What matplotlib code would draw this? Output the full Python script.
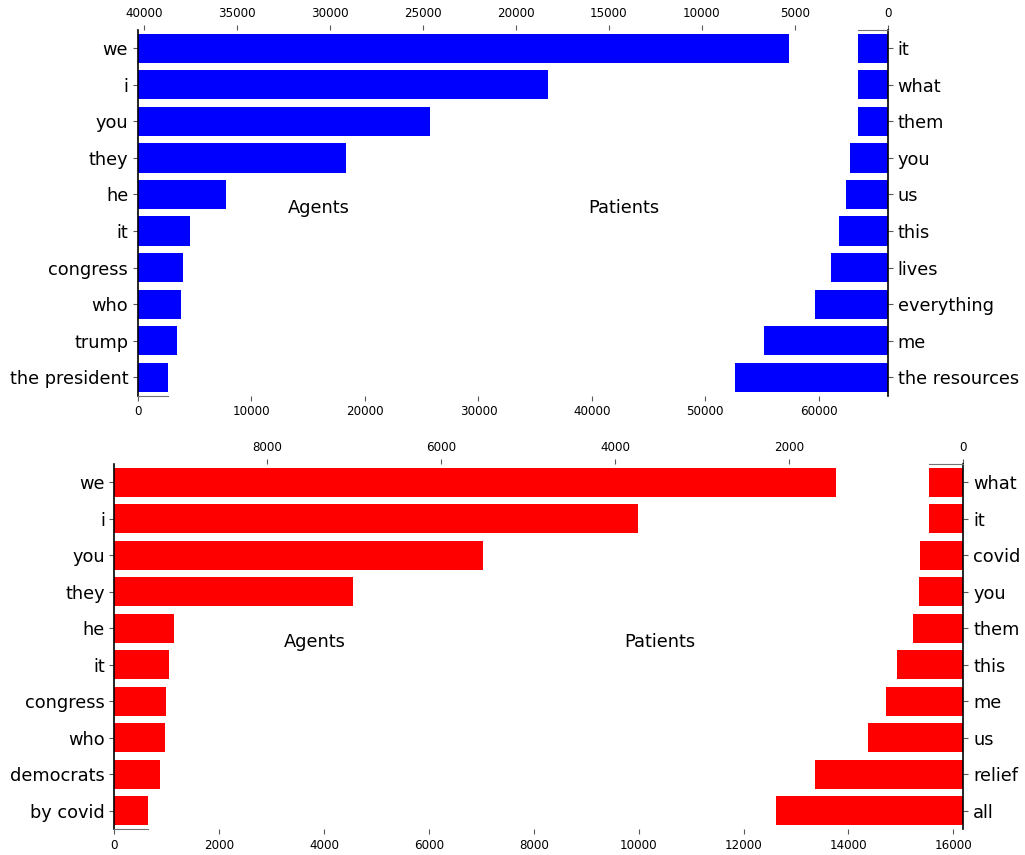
import matplotlib
matplotlib.use("Agg")
import matplotlib.pyplot as plt

# top chart (blue)
agents_top = ["we", "i", "you", "they", "he", "it", "congress", "who", "trump", "the president"]
agents_top_counts = [57360, 36110, 25710, 18360, 7780, 4600, 3990, 3810, 3460, 2660]
patients_top = ["it", "what", "them", "you", "us", "this", "lives", "everything", "me", "the resources"]
patients_top_counts = [1630, 1625, 1620, 2060, 2270, 2650, 3080, 3940, 6680, 8240]

# bottom chart (red)
agents_bot = ["we", "i", "you", "they", "he", "it", "congress", "who", "democrats", "by covid"]
agents_bot_counts = [13760, 9980, 7030, 4545, 1130, 1035, 977, 958, 862, 633]
patients_bot = ["what", "it", "covid", "you", "them", "this", "me", "us", "relief", "all"]
patients_bot_counts = [394, 392, 498, 509, 578, 762, 888, 1095, 1705, 2153]


def style_ticks(a):
    a.tick_params(axis="both", which="both", color="0.35", width=0.8, length=3.5)
    a.tick_params(axis="y", labelsize=12.8)
    a.tick_params(axis="x", labelsize=8.6)


def panel(fig, rect, agents, a_counts, patients, p_counts, color, xmax_bottom, xmax_top):
    n = len(agents)
    ax = fig.add_axes(rect)
    ax.barh(range(n), a_counts, height=0.8, color=color)
    ax.set_yticks(range(n))
    ax.set_yticklabels(agents)
    ax.set_ylim(n - 0.5, -0.5)
    ax.set_xlim(0, xmax_bottom)
    for s in ["top", "right"]:
        ax.spines[s].set_visible(False)
    ax.spines["left"].set_color("black")
    ax.spines["left"].set_linewidth(1.2)
    ax.spines["bottom"].set_bounds(0, a_counts[-1])
    ax.spines["bottom"].set_color("0.45")
    style_ticks(ax)

    ax2 = fig.add_axes(rect, label="patients")
    ax2.patch.set_visible(False)
    ax2.barh(range(n), p_counts, height=0.8, color=color)
    ax2.set_yticks(range(n))
    ax2.set_yticklabels(patients)
    ax2.set_ylim(n - 0.5, -0.5)
    ax2.set_xlim(xmax_top, 0)
    ax2.xaxis.tick_top()
    ax2.yaxis.tick_right()
    for s in ["bottom", "left"]:
        ax2.spines[s].set_visible(False)
    ax2.spines["right"].set_color("black")
    ax2.spines["right"].set_linewidth(1.2)
    ax2.spines["top"].set_bounds(0, p_counts[0])
    ax2.spines["top"].set_color("0.45")
    style_ticks(ax2)

    ax.text(0.2, 0.5, "Agents", transform=ax.transAxes, fontsize=12.8, va="baseline")
    ax.text(0.6, 0.5, "Patients", transform=ax.transAxes, fontsize=12.8, va="baseline")
    return ax, ax2


fig = plt.figure(figsize=(10.25, 8.55), dpi=100)

panel(fig, [0.1346, 0.5374, 0.7317, 0.4275],
      agents_top, agents_top_counts, patients_top, patients_top_counts,
      "#0000ff", 66090, 40320)

panel(fig, [0.1117, 0.0304, 0.8281, 0.4269],
      agents_bot, agents_bot_counts, patients_bot, patients_bot_counts,
      "#ff0000", 16191, 9756)

plt.savefig("out.png", dpi=100)
